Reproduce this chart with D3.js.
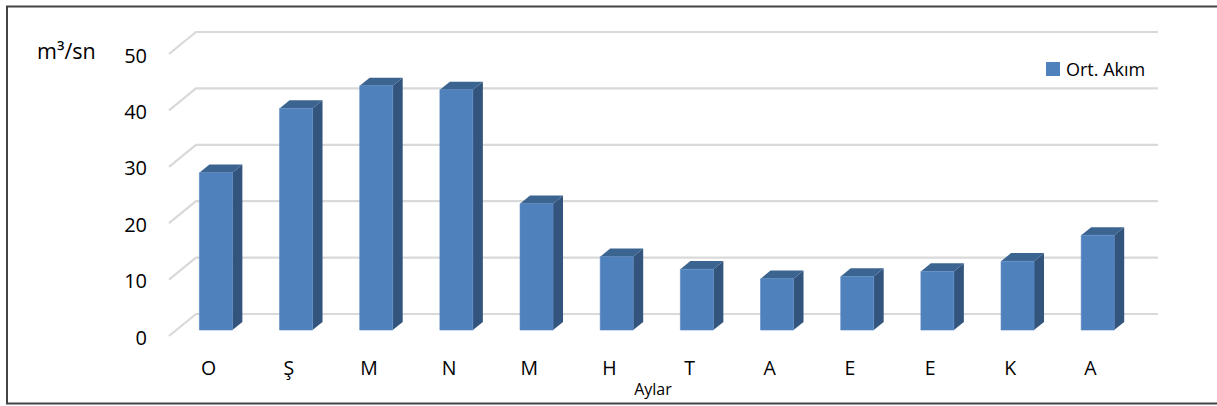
<!DOCTYPE html>
<html>
<head>
<meta charset="utf-8">
<script src="https://cdn.jsdelivr.net/npm/d3@7"></script>
<style>
  body { margin: 0; background: #fff; }
  text { font-family: "Open Sans", sans-serif; fill: #000; }
</style>
</head>
<body>
<div id="chart"></div>
<script>
// monthly mean flow
var months = ["O", "Ş", "M", "N", "M", "H", "T", "A", "E", "E", "K", "A"];
var flow = [27.9, 39.3, 43.3, 42.6, 22.4, 13.0, 10.8, 9.1, 9.5, 10.4, 12.2, 16.8];
var yTicks = [0, 10, 20, 30, 40, 50];
var seriesName = "Ort. Akım";

var W = 1217, H = 406;
var floorY = 336;          // front edge of the floor
var depth = {dx: 27, dy: -22};
var barT0 = 0.27, barT1 = 0.64; // bar position inside the depth

var svg = d3.select("#chart").append("svg")
  .attr("width", W).attr("height", H);

// frame
svg.append("path")
  .attr("d", "M1217,6.5 H7 V403.5 H1217")
  .attr("fill", "none").attr("stroke", "#444").attr("stroke-width", 2);

var x = d3.scaleBand()
  .domain(d3.range(months.length))
  .range([169, 1131])
  .paddingInner(0).paddingOuter(0);

var y = d3.scaleLinear()
  .domain([0, 50])
  .range([0, 282]);

// project a point: front x, depth t (0..1), value v
function pt(px, t, v) {
  return [px + t * depth.dx, floorY + t * depth.dy - y(v)];
}

// gridlines: diagonal on the side wall + line along the back wall
var grid = svg.append("g");
yTicks.forEach(function(v) {
  var a = pt(x.range()[0], 0, v), b = pt(x.range()[0], 1, v), c = pt(x.range()[1], 1, v);
  grid.append("path")
    .attr("d", "M" + a + "L" + b + "L" + c)
    .attr("fill", "none").attr("stroke", "#d9d9d9").attr("stroke-width", 2.2);
  svg.append("text")
    .attr("x", 147).attr("y", a[1] + 1)
    .attr("text-anchor", "end").attr("dominant-baseline", "central")
    .style("font-size", "20px")
    .text(v);
});

// bars
var barW = 33;
var bars = svg.selectAll("g.bar").data(flow).enter().append("g").attr("class", "bar");

bars.each(function(v, i) {
  var g = d3.select(this);
  var x0 = x(i) + x.bandwidth() / 2 - barW / 2 - 0.5, x1 = x0 + barW;
  var fbl = pt(x0, barT0, 0), fbr = pt(x1, barT0, 0), ftr = pt(x1, barT0, v), ftl = pt(x0, barT0, v);
  var bbr = pt(x1, barT1, 0), btr = pt(x1, barT1, v), btl = pt(x0, barT1, v);
  g.append("polygon").attr("points", [fbr, bbr, btr, ftr].join(" ")).attr("fill", "#33557d");
  g.append("polygon").attr("points", [ftl, ftr, btr, btl].join(" ")).attr("fill", "#3c6491");
  g.append("polygon").attr("points", [fbl, fbr, ftr, ftl].join(" ")).attr("fill", "#4f81bd")
    .attr("stroke", "#5a8ac4").attr("stroke-width", 0.6);
});

// category labels
svg.selectAll("text.cat").data(months).enter().append("text")
  .attr("class", "cat")
  .attr("x", function(d, i) { return x(i) + x.bandwidth() / 2 - 0.5; })
  .attr("y", 367)
  .attr("text-anchor", "middle").attr("dominant-baseline", "central")
  .style("font-size", "19.5px")
  .text(function(d) { return d; });

// axis titles
svg.append("text").attr("x", 37).attr("y", 50)
  .attr("dominant-baseline", "central").style("font-size", "21.5px")
  .text("m³/sn");
svg.append("text").attr("x", 653).attr("y", 389)
  .attr("text-anchor", "middle").attr("dominant-baseline", "central").style("font-size", "16px")
  .text("Aylar");

// legend
svg.append("rect").attr("x", 1046).attr("y", 62).attr("width", 14).attr("height", 14).attr("fill", "#4f81bd");
svg.append("text").attr("x", 1066).attr("y", 69)
  .attr("dominant-baseline", "central").style("font-size", "18px")
  .text(seriesName);
</script>
</body>
</html>
